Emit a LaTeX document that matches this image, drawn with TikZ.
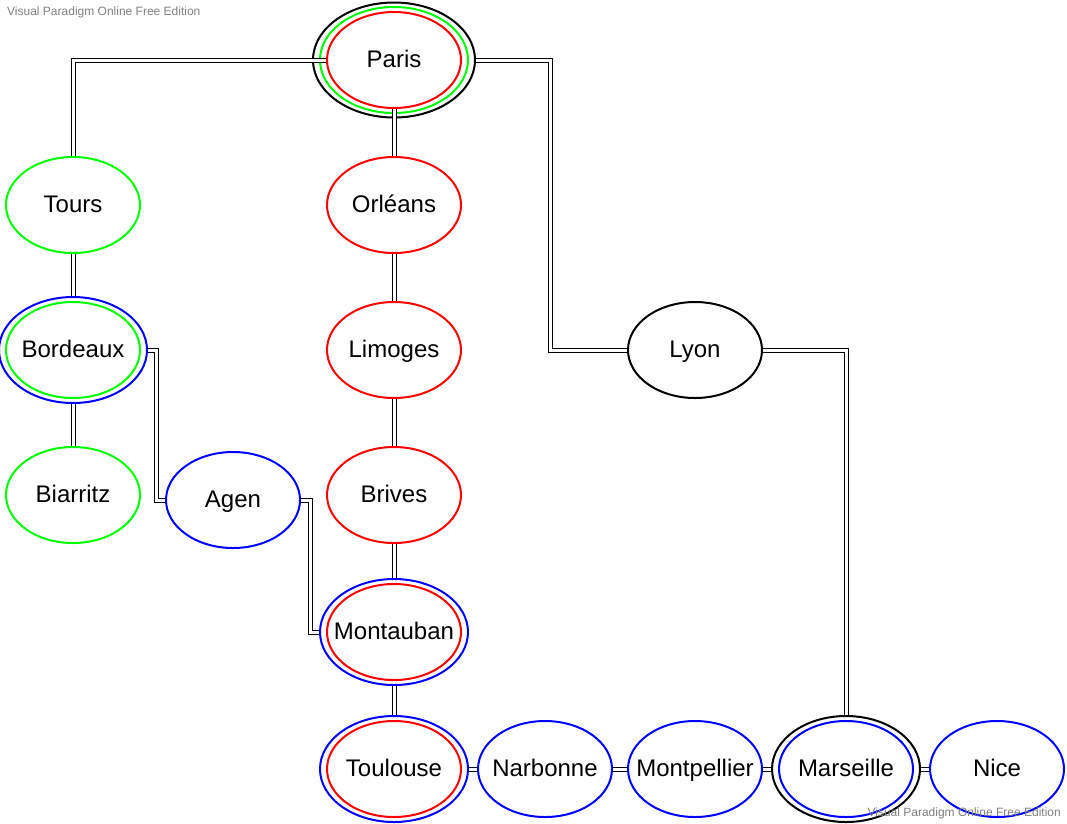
\documentclass[tikz,border=0pt]{standalone}
\usepackage{fontspec}
\setmainfont{Liberation Sans}
\definecolor{cityred}{HTML}{FF0000}
\definecolor{citygreen}{HTML}{00FF00}
\definecolor{cityblue}{HTML}{0000FF}
\definecolor{watermarkgray}{HTML}{808080}
\usetikzlibrary{shapes.geometric,positioning}

\begin{document}
\begin{tikzpicture}[
    x=1pt, y=-1pt,
    city/.style={ellipse, draw=#1, line width=2pt, minimum width=134pt, minimum height=96pt,
        inner xsep=-30pt, inner ysep=0pt, text height=18pt, text depth=4pt,
        font=\fontsize{24}{28}\selectfont},
    ring/.style={ellipse, draw=#1, line width=2pt, minimum width=148pt, minimum height=106pt, inner sep=0pt},
    outer ring/.style={ellipse, draw=#1, line width=2pt, minimum width=162pt, minimum height=115pt, inner sep=0pt},
    link/.style={draw=black, line width=1pt, double=white, double distance=3pt},
    watermark/.style={text=watermarkgray, font=\fontsize{12}{14}\selectfont, inner sep=0pt}
]
    \useasboundingbox (0,0) rectangle (1067,823);

    % middle column
    \node[city=cityred] (Paris) at (394,60) {Paris};
    \node[city=cityred, below of=Paris, node distance=145pt] (Orleans) {Orléans};
    \node[city=cityred, below of=Orleans, node distance=145pt] (Limoges) {Limoges};
    \node[city=cityred, below of=Limoges, node distance=145pt] (Brives) {Brives};
    \node[city=cityred, below of=Brives, node distance=137pt] (Montauban) {Montauban};
    \node[city=cityred, below of=Montauban, node distance=137pt] (Toulouse) {Toulouse};

    % west
    \node[city=citygreen, left of=Orleans, node distance=321pt] (Tours) {Tours};
    \node[city=citygreen, below of=Tours, node distance=145pt] (Bordeaux) {Bordeaux};
    \node[city=citygreen, below of=Bordeaux, node distance=145pt] (Biarritz) {Biarritz};
    \node[city=cityblue, right of=Biarritz, node distance=160pt, yshift=-5pt] (Agen) {Agen};

    % east and south
    \node[city=black, right of=Limoges, node distance=301pt] (Lyon) {Lyon};
    \node[city=cityblue, right of=Toulouse, node distance=151pt] (Narbonne) {Narbonne};
    \node[city=cityblue, right of=Narbonne, node distance=150pt] (Montpellier) {Montpellier};
    \node[city=cityblue, right of=Montpellier, node distance=151pt] (Marseille) {Marseille};
    \node[city=cityblue, right of=Marseille, node distance=151pt] (Nice) {Nice};

    % extra outlines
    \node[ring=citygreen] (ParisRing) at (Paris) {};
    \node[outer ring=black] (ParisOuter) at (Paris) {};
    \node[ring=cityblue] (BordeauxRing) at (Bordeaux) {};
    \node[ring=cityblue] (MontaubanRing) at (Montauban) {};
    \node[ring=cityblue] (ToulouseRing) at (Toulouse) {};
    \node[ring=black] (MarseilleRing) at (Marseille) {};

    \path[link] (Paris) -| (Tours);
    \path[link] (Paris) -- (Orleans);
    \path[link] (ParisOuter.east) -| ([xshift=-77pt]Lyon.west) -- (Lyon.west);
    \path[link] (Tours) -- (BordeauxRing);
    \path[link] (BordeauxRing) -- (Biarritz);
    \path[link] (BordeauxRing.east) -| ([xshift=-9pt]Agen.west) -- (Agen.west);
    \path[link] (Agen.east) -| ([xshift=-9pt]MontaubanRing.west) -- (MontaubanRing.west);
    \path[link] (Orleans) -- (Limoges);
    \path[link] (Limoges) -- (Brives);
    \path[link] (Brives) -- (MontaubanRing);
    \path[link] (MontaubanRing) -- (ToulouseRing);
    \path[link] (Lyon) -| (MarseilleRing);
    \path[link] (ToulouseRing) -- (Narbonne);
    \path[link] (Narbonne) -- (Montpellier);
    \path[link] (Montpellier) -- (MarseilleRing);
    \path[link] (MarseilleRing) -- (Nice);

    \node[watermark, anchor=west] (wmTop) at (7,12) {Visual Paradigm Online Free Edition};
    \node[watermark, anchor=east] (wmBottom) at (1061,813) {Visual Paradigm Online Free Edition};
\end{tikzpicture}
\end{document}
